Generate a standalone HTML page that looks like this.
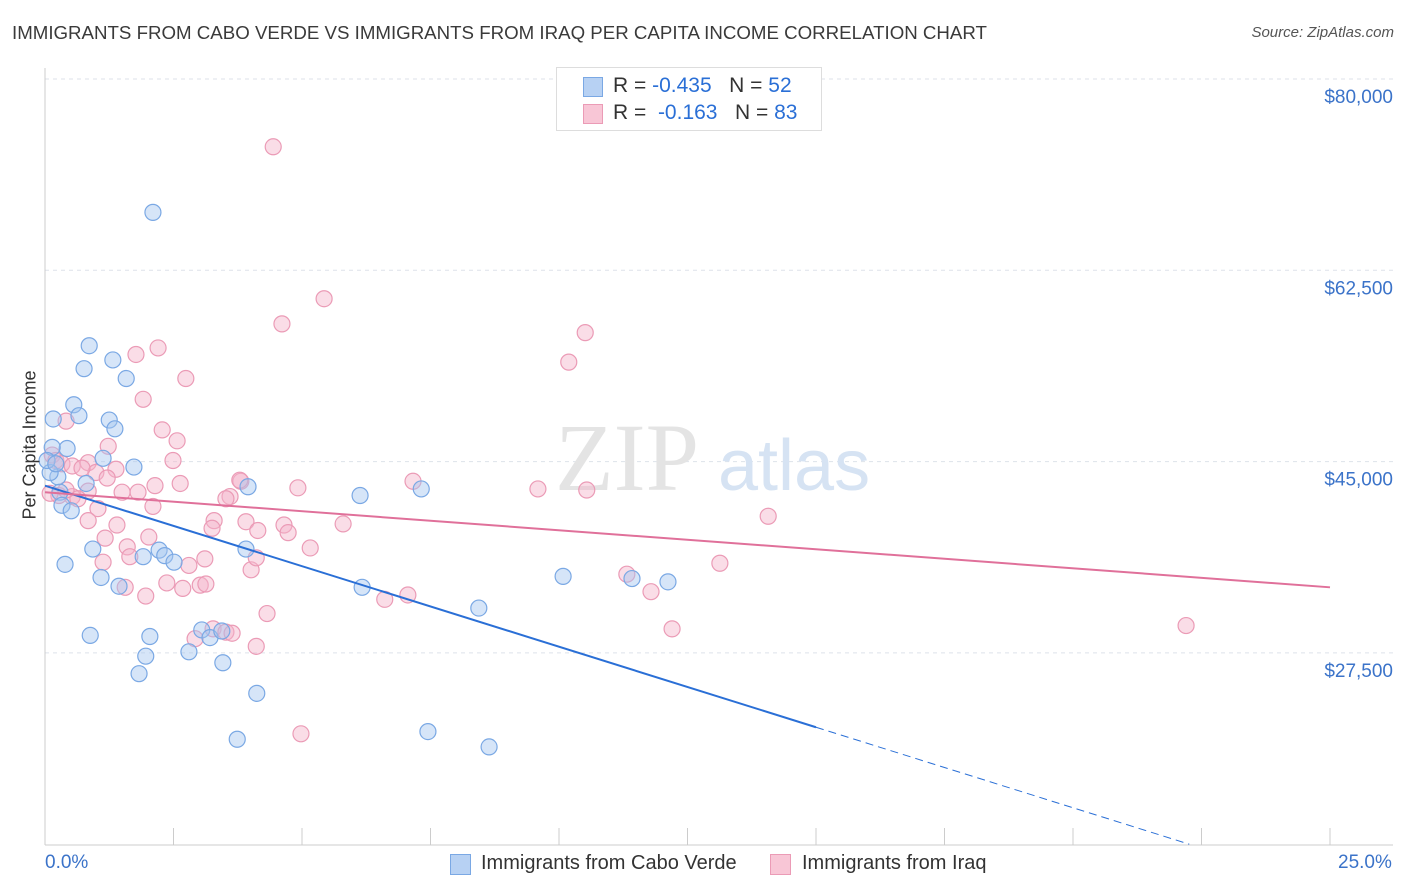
<!DOCTYPE html>
<html><head><meta charset="utf-8">
<style>
body{margin:0;background:#fff;font-family:"Liberation Sans",sans-serif;}
#wrap{position:relative;width:1406px;height:892px;overflow:hidden;}
.t{position:absolute;white-space:nowrap;}
</style></head><body>
<div id="wrap">
<div class="t" style="left:12px;top:22px;font-size:18.7px;color:#3a3a3a;">IMMIGRANTS FROM CABO VERDE VS IMMIGRANTS FROM IRAQ PER CAPITA INCOME CORRELATION CHART</div>
<div class="t" style="right:12px;top:24px;font-size:15px;color:#555;font-style:italic;">Source: ZipAtlas.com</div>
<svg id="svg" width="1406" height="892" style="position:absolute;left:0;top:0"></svg>
</div>
<script>
const xTicks=[0,2.5,5,7.5,10,12.5,15,17.5,20,22.5,25];
const yTicks=[27500,45000,62500,80000];
const yTickLabels=["$27,500","$45,000","$62,500","$80,000"];
const blueX=[2.10,0.86,1.32,0.76,1.58,0.16,0.56,0.66,1.25,1.36,0.43,0.14,1.13,1.73,0.25,0.80,3.95,7.32,6.13,0.29,0.33,0.51,0.93,0.39,1.91,2.22,2.33,2.51,3.91,1.09,1.44,6.17,10.08,11.42,12.12,8.44,0.88,2.04,3.05,3.21,3.44,2.80,1.96,3.46,1.83,4.12,3.74,7.45,8.64,0.10,0.04,0.21];
const blueY=[67.8,55.6,54.3,53.5,52.6,48.9,50.2,49.2,48.8,48.0,46.2,46.3,45.3,44.5,43.6,43.0,42.7,42.5,41.9,42.2,41.0,40.5,37.0,35.6,36.3,36.9,36.4,35.8,37.0,34.4,33.6,33.5,34.5,34.3,34.0,31.6,29.1,29.0,29.6,28.9,29.5,27.6,27.2,26.6,25.6,23.8,19.6,20.3,18.9,44.0,45.1,44.8];
const pinkX=[4.44,5.43,4.61,10.51,10.19,2.20,1.77,2.74,1.91,0.41,2.28,2.57,1.23,2.49,0.14,0.21,0.33,0.53,0.84,1.38,0.99,7.16,3.81,2.63,2.14,3.60,3.52,0.84,1.50,1.81,4.92,9.59,10.54,0.53,0.64,0.27,2.10,1.03,0.84,1.40,3.29,3.91,4.65,3.25,5.80,14.07,4.73,4.14,1.17,2.02,1.60,5.16,1.65,1.13,3.11,2.80,4.01,4.11,13.13,11.32,2.37,2.68,3.02,3.13,1.56,1.96,11.79,6.61,7.06,4.32,3.27,3.52,3.64,2.92,4.11,12.20,22.20,4.98,0.41,0.72,0.10,1.21,3.79];
const pinkY=[73.8,59.9,57.6,56.8,54.1,55.4,54.8,52.6,50.7,48.7,47.9,46.9,46.4,45.1,45.6,45.1,44.8,44.6,44.9,44.3,44.0,43.2,43.2,43.0,42.8,41.8,41.6,42.3,42.2,42.2,42.6,42.5,42.4,41.8,41.6,41.9,40.9,40.7,39.6,39.2,39.6,39.5,39.2,38.9,39.3,40.0,38.5,38.7,38.0,38.1,37.2,37.1,36.3,35.8,36.1,35.5,35.1,36.2,35.7,34.7,33.9,33.4,33.7,33.8,33.5,32.7,33.1,32.4,32.8,31.1,29.7,29.4,29.3,28.8,28.1,29.7,30.0,20.1,42.4,44.4,42.1,43.5,43.3];
const blueLine=[42.8,20.7];
const pinkLine=[42.2,33.5];

const NS="http://www.w3.org/2000/svg";
const svg=document.getElementById('svg');
const X=v=>45+v*51.4;
const Y=v=>79+(80-v)/17.5*191.3;
function mk(tag,at,parent){const e=document.createElementNS(NS,tag);for(const k in at)e.setAttribute(k,at[k]);(parent||svg).appendChild(e);return e;}

yTicks.forEach((t,i)=>{
  const g=mk('line',{x1:45,x2:1393,y1:Y(t/1000),y2:Y(t/1000),stroke:'#dde2ea','stroke-dasharray':'4,4','stroke-width':1});
  
  
  const tx=mk('text',{x:1393,y:Y(t/1000)+24,'text-anchor':'end','font-size':19,fill:'#3b73c9','font-family':'Liberation Sans'});
  tx.textContent=yTickLabels[i];
  
  
});
const ax=mk('line',{x1:45,x2:1393,y1:845,y2:845,stroke:'#ccc'});


const ay=mk('line',{x1:45,x2:45,y1:68,y2:845,stroke:'#ccc'});


xTicks.forEach(t=>{
  const l=mk('line',{x1:X(t),x2:X(t),y1:828,y2:845,stroke:'#ccc'});
  
  
});
const wm=mk('text',{x:555,y:490,'font-size':96,fill:'#e4e4e4','font-family':'Liberation Serif'});
wm.textContent='ZIP';


const wm2=mk('text',{x:718,y:490,'font-size':72,fill:'#d6e3f3','font-family':'Liberation Sans'});
wm2.textContent='atlas';



pinkX.forEach((x,i)=>{
  const c=mk('circle',{cx:X(x),cy:Y(pinkY[i]),r:8,fill:'rgba(245,180,202,0.45)',stroke:'#eb9bb6','stroke-width':1.2});
  
  
});
blueX.forEach((x,i)=>{
  const c=mk('circle',{cx:X(x),cy:Y(blueY[i]),r:8,fill:'rgba(165,198,240,0.45)',stroke:'#7aa8e4','stroke-width':1.2});
  
  
});
const bs=(blueLine[1]-blueLine[0])/15;
const bl=mk('line',{x1:X(0),y1:Y(blueLine[0]),x2:X(15),y2:Y(blueLine[1]),stroke:'#2a6fd6','stroke-width':2});


const xEnd=(10-blueLine[0])/bs;
const bd=mk('line',{x1:X(15),y1:Y(blueLine[1]),x2:X(xEnd),y2:Y(10),stroke:'#2a6fd6','stroke-width':1,'stroke-dasharray':'8,5'});


const pl=mk('line',{x1:X(0),y1:Y(pinkLine[0]),x2:X(25),y2:Y(pinkLine[1]),stroke:'#e0709a','stroke-width':2});


</script>
<div class="t" style="left:-35px;top:444px;font-size:18px;color:#333;transform:rotate(-90deg);transform-origin:center;width:130px;text-align:center;">Per Capita Income</div>
<div class="t" style="left:45px;top:852px;font-size:19px;color:#3b73c9;">0.0%</div>
<div class="t" style="left:1338px;top:852px;font-size:19px;color:#3b73c9;">25.0%</div>
<div style="position:absolute;left:556px;top:67px;width:264px;height:62px;border:1px solid #ddd;background:#fff;font-size:21px;color:#333;">
  <div style="position:absolute;left:26px;top:9px;width:18px;height:18px;background:#b7d1f3;border:1px solid #7aa8e4;"></div>
  <div class="t" style="left:56px;top:6px;">R = <span style="color:#2a6fd6">-0.435</span>&nbsp;&nbsp;&nbsp;N = <span style="color:#2a6fd6">52</span></div>
  <div style="position:absolute;left:26px;top:36px;width:18px;height:18px;background:#f8c6d6;border:1px solid #eb9bb6;"></div>
  <div class="t" style="left:56px;top:33px;">R = &nbsp;<span style="color:#2a6fd6">-0.163</span>&nbsp;&nbsp;&nbsp;N = <span style="color:#2a6fd6">83</span></div>
</div>
<div style="position:absolute;left:450px;top:852px;font-size:20px;color:#333;">
  <div style="position:absolute;left:0;top:2px;width:19px;height:19px;background:#b7d1f3;border:1px solid #7aa8e4;"></div>
  <div class="t" style="left:31px;top:0;">Immigrants from Cabo Verde</div>
</div>
<div style="position:absolute;left:770px;top:852px;font-size:20px;color:#333;">
  <div style="position:absolute;left:0;top:2px;width:19px;height:19px;background:#f8c6d6;border:1px solid #eb9bb6;"></div>
  <div class="t" style="left:32px;top:0;">Immigrants from Iraq</div>
</div>
</body></html>
